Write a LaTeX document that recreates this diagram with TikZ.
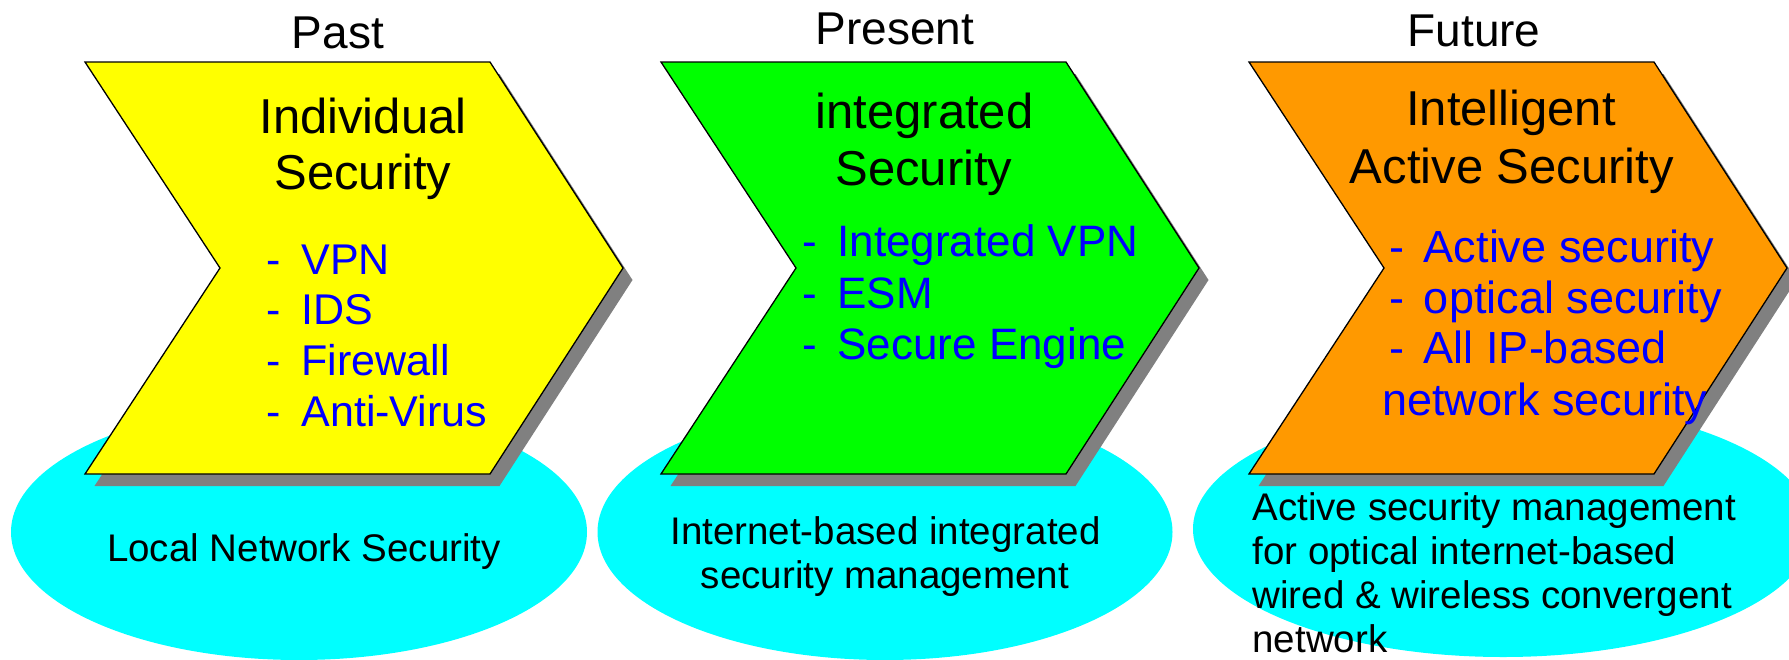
\documentclass[tikz,border=0pt]{standalone}
\usepackage{fontspec}
\setmainfont{Liberation Sans}
\definecolor{pastfill}{RGB}{255,255,0}
\definecolor{presentfill}{RGB}{0,255,0}
\definecolor{futurefill}{RGB}{255,153,0}
\definecolor{basefill}{RGB}{0,255,255}
\definecolor{shadowgray}{RGB}{128,128,128}
\definecolor{itemblue}{RGB}{0,0,255}
\begin{document}
\begin{tikzpicture}[x=1pt,y=-1pt,
  every node/.style={inner sep=0pt, outer sep=0pt},
  era/.style={anchor=base, font=\fontsize{46}{52}\selectfont},
  stage/.style={anchor=base, font=\fontsize{49}{56}\selectfont},
  item/.style={anchor=base west, text=itemblue, font=\fontsize{#1}{50}\selectfont},
  item/.default=43,
  scope text/.style={font=\fontsize{38.5}{44}\selectfont},
  pics/chevron/.style={code={
    % drop shadow, then the outlined arrow on top
    \fill[shadowgray] (9.5,74) -- (414.5,74) -- (547.5,280) -- (414.5,486)
      -- (9.5,486) -- (144.5,280) -- cycle;
    \filldraw[line width=1.3pt, fill=#1] (0,62) -- (405,62) -- (538,268)
      -- (405,474) -- (0,474) -- (135,268) -- cycle;
  }}
]
\useasboundingbox (0,0) rectangle (1789,659);

% scope ellipses under the arrows
\fill[basefill] (299,532) ellipse [x radius=288pt, y radius=128pt];
\fill[basefill] (885,532) ellipse [x radius=287.5pt, y radius=128pt];
\fill[basefill] (1503,529) ellipse [x radius=310pt, y radius=128pt];

% the three stage arrows
\pic (pastarrow) at (85,0) {chevron=pastfill};
\pic (presentarrow) at (661,0) {chevron=presentfill};
\pic (futurearrow) at (1249,0) {chevron=futurefill};

% era headings
\node[era] (pasthead) at (338,48) {Past};
\node[era] (presenthead) at (895,44) {Present};
\node[era] (futurehead) at (1474,46) {Future};

% Past
\node[stage] (pastt1) at (363,133) {Individual};
\node[stage] (pastt2) at (363,189) {Security};
\node[item=43] (pasti1) at (266.5,274) {\makebox[35pt][l]{-}VPN};
\node[item=43] (pasti2) at (266.5,324.5) {\makebox[35pt][l]{-}IDS};
\node[item=43] (pasti3) at (266.5,375) {\makebox[35pt][l]{-}Firewall};
\node[item=43] (pasti4) at (266.5,426) {\makebox[35pt][l]{-}Anti-Virus};
\node[scope text, anchor=base] (pastscope) at (304,561) {Local Network Security};

% Present
\node[stage] (presentt1) at (924.5,128) {integrated};
\node[stage] (presentt2) at (924,185) {Security};
\node[item=44] (presenti1) at (802.5,256.5) {\makebox[35pt][l]{-}Integrated VPN};
\node[item=44] (presenti2) at (802.5,308.5) {\makebox[35pt][l]{-}ESM};
\node[item=44] (presenti3) at (802.5,359) {\makebox[35pt][l]{-}Secure Engine};
\node[scope text, anchor=base] (presentscope1) at (885.5,544) {Internet-based integrated};
\node[scope text, anchor=base] (presentscope2) at (885,588.5) {security management};

% Future
\node[stage] (futuret1) at (1511,125) {Intelligent};
\node[stage] (futuret2) at (1512,183) {Active Security};
\node[item=45] (futurei1) at (1389,262.5) {\makebox[35pt][l]{-}Active security};
\node[item=45] (futurei2) at (1389,313) {\makebox[35pt][l]{-}optical security};
\node[item=45] (futurei3) at (1389,363.5) {\makebox[35pt][l]{-}All IP-based};
\node[item=45] (futurei4) at (1382,415) {network security};
\node[scope text, anchor=base west] (futurescope1) at (1252.5,520) {Active security management};
\node[scope text, anchor=base west] (futurescope2) at (1252.5,564) {for optical internet-based};
\node[scope text, anchor=base west] (futurescope3) at (1252.5,608) {wired \& wireless convergent};
\node[scope text, anchor=base west] (futurescope4) at (1252.5,652) {network};
\end{tikzpicture}
\end{document}
